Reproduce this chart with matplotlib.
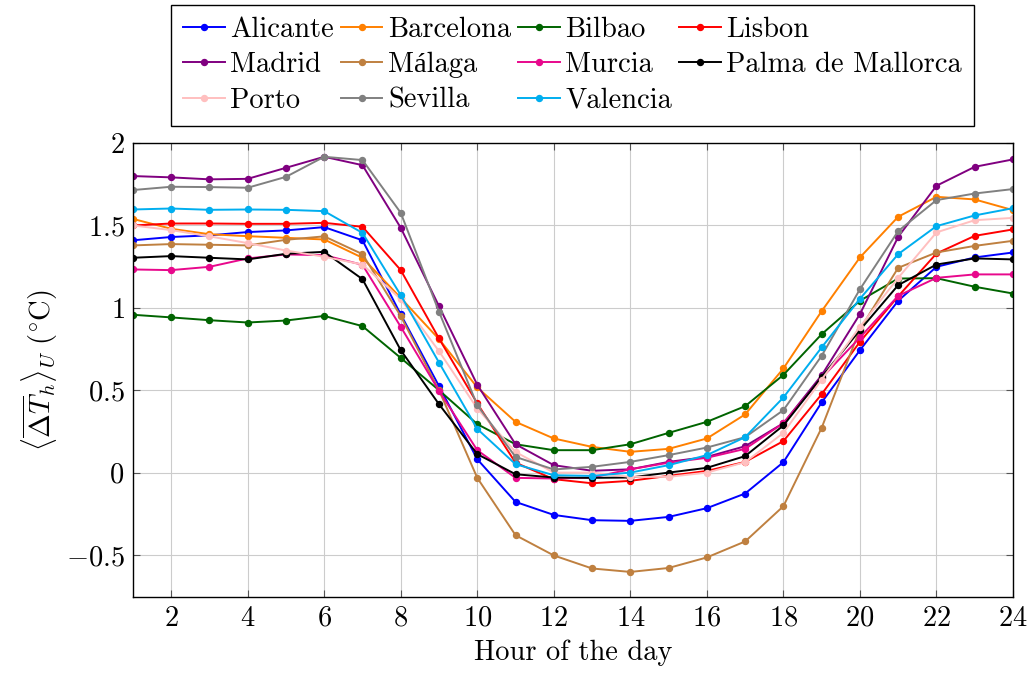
import numpy as np
import matplotlib
matplotlib.use('Agg')
import matplotlib.pyplot as plt

# cmr10 has no accented letters, Liberation Serif fills in the "á"
plt.rcParams['font.family'] = ['cmr10', 'Liberation Serif']
plt.rcParams['mathtext.fontset'] = 'cm'
plt.rcParams['axes.formatter.use_mathtext'] = True
plt.rcParams['axes.unicode_minus'] = True

hours = np.arange(1, 25)

# mean temperature difference per hour of the day
alicante = [1.41, 1.43, 1.44, 1.46, 1.47, 1.49, 1.41, 0.96, 0.525, 0.081, -0.178, -0.257,
            -0.289, -0.293, -0.269, -0.216, -0.127, 0.063, 0.426, 0.743, 1.043, 1.249, 1.306, 1.336]
barcelona = [1.54, 1.48, 1.447, 1.435, 1.425, 1.415, 1.304, 1.06, 0.81, 0.517, 0.308, 0.207,
             0.156, 0.126, 0.144, 0.207, 0.353, 0.632, 0.98, 1.306, 1.553, 1.674, 1.658, 1.593]
bilbao = [0.958, 0.942, 0.925, 0.911, 0.923, 0.951, 0.889, 0.696, 0.50, 0.294, 0.172, 0.136,
          0.136, 0.172, 0.241, 0.308, 0.403, 0.593, 0.84, 1.043, 1.178, 1.18, 1.128, 1.087]
lisbon = [1.50, 1.512, 1.512, 1.51, 1.51, 1.516, 1.492, 1.229, 0.814, 0.42, 0.06, -0.04,
          -0.065, -0.05, -0.02, 0.01, 0.065, 0.191, 0.476, 0.794, 1.07, 1.33, 1.437, 1.476]
madrid = [1.80, 1.792, 1.78, 1.783, 1.85, 1.917, 1.866, 1.486, 1.01, 0.533, 0.172, 0.045,
          0.011, 0.02, 0.065, 0.095, 0.16, 0.30, 0.591, 0.962, 1.431, 1.741, 1.856, 1.901]
malaga = [1.379, 1.387, 1.383, 1.379, 1.413, 1.434, 1.326, 0.95, 0.50, -0.032, -0.38, -0.503,
          -0.582, -0.603, -0.579, -0.515, -0.418, -0.204, 0.272, 0.87, 1.243, 1.336, 1.376, 1.407]
murcia = [1.233, 1.229, 1.249, 1.30, 1.324, 1.32, 1.261, 0.885, 0.496, 0.136, -0.032, -0.036,
          -0.03, 0.02, 0.06, 0.09, 0.144, 0.30, 0.575, 0.82, 1.073, 1.182, 1.203, 1.203]
palma = [1.304, 1.314, 1.304, 1.294, 1.328, 1.34, 1.174, 0.743, 0.415, 0.112, -0.01, -0.03,
         -0.032, -0.03, 0.0, 0.029, 0.10, 0.286, 0.58, 0.865, 1.138, 1.263, 1.30, 1.294]
porto = [1.50, 1.472, 1.434, 1.393, 1.348, 1.31, 1.263, 1.053, 0.737, 0.389, 0.125, 0.0,
         0.0, -0.026, -0.026, 0.0, 0.063, 0.241, 0.565, 0.885, 1.182, 1.458, 1.532, 1.546]
sevilla = [1.715, 1.735, 1.733, 1.729, 1.795, 1.917, 1.897, 1.577, 0.976, 0.409, 0.095, 0.019,
           0.035, 0.065, 0.106, 0.152, 0.215, 0.379, 0.709, 1.113, 1.466, 1.654, 1.694, 1.721]
valencia = [1.597, 1.603, 1.595, 1.597, 1.595, 1.587, 1.455, 1.077, 0.668, 0.265, 0.051, -0.016,
            -0.02, 0.0, 0.045, 0.106, 0.215, 0.456, 0.76, 1.055, 1.326, 1.496, 1.561, 1.605]

cities = ['Alicante', 'Barcelona', 'Bilbao', 'Lisbon', 'Madrid', 'Málaga', 'Murcia',
          'Palma de Mallorca', 'Porto', 'Sevilla', 'Valencia']
series = [alicante, barcelona, bilbao, lisbon, madrid, malaga, murcia, palma, porto, sevilla, valencia]
colors = ['#0000ff', '#ff8000', '#006400', '#ff0000', '#800080', '#bf8040', '#e8088c',
          '#000000', '#ffbfbf', '#808080', '#00aeef']

xticks = list(range(2, 25, 2))
yticks = [-0.5, 0, 0.5, 1, 1.5, 2]
yticklabels = ['$-0.5$', '$0$', '$0.5$', '$1$', '$1.5$', '$2$']

fs = 20.5

fig = plt.figure(figsize=(10.3, 6.75), dpi=100)
ax = fig.add_axes([0.129, 0.1156, 0.8545, 0.6724])

handles = []
for name, vals, c in zip(cities, series, colors):
    h, = ax.plot(hours, vals, color=c, lw=1.4, marker='o', markersize=4.3, label=name)
    handles.append(h)

ax.set_xlim(1, 24)
ax.set_ylim(-0.755, 2.0)
ax.set_xticks(xticks)
ax.set_xticklabels(['$%d$' % t for t in xticks])
ax.set_yticks(yticks)
ax.set_yticklabels(yticklabels)
ax.tick_params(direction='in', top=True, right=True, labelsize=fs, length=5, width=0.8,
               color='#555555', pad=6)
ax.grid(True, color='#cccccc', lw=0.8)
ax.set_axisbelow(True)
for s in ax.spines.values():
    s.set_linewidth(1.0)

ax.set_xlabel('Hour of the day', fontsize=fs, labelpad=6)
ax.set_ylabel(r'$\langle\overline{\Delta T}_h\rangle_U\ (^{\circ}\mathrm{C})$', fontsize=fs, labelpad=4)

# pgfplots fills legend row by row, matplotlib column by column
order = [0, 4, 8, 1, 5, 9, 2, 6, 10, 3, 7]
leg = fig.legend([handles[i] for i in order], [cities[i] for i in order],
                 loc='upper center', bbox_to_anchor=(0.556, 0.993), ncol=4,
                 fontsize=fs, handlelength=1.45, handletextpad=0.2, columnspacing=0.25,
                 labelspacing=0.32, borderpad=0.42, borderaxespad=0.0, fancybox=False,
                 edgecolor='black', framealpha=1)
leg.get_frame().set_linewidth(1.0)

fig.savefig('out.png', dpi=100)
